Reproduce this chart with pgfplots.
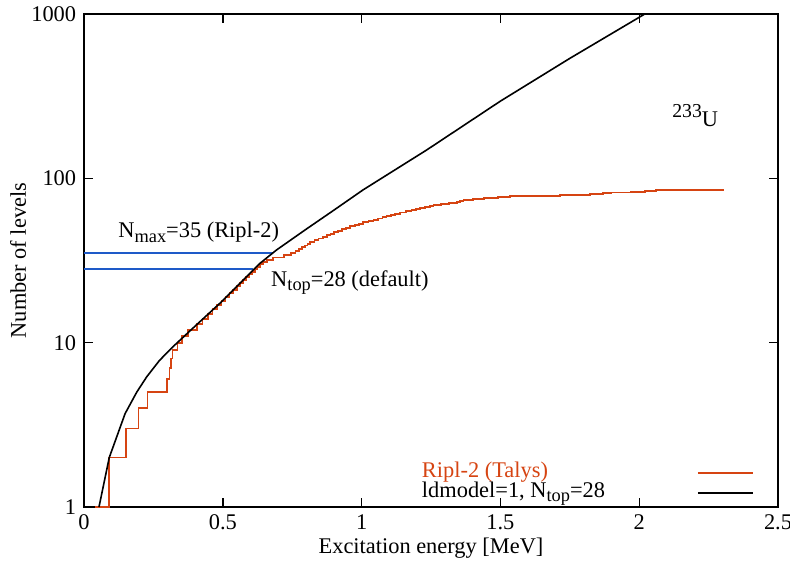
\documentclass[border=0pt]{standalone}
\usepackage{fontspec}
\setmainfont{Liberation Serif}
\usepackage{graphicx}
\usepackage{pgfplots}
\pgfplotsset{compat=1.18}
\definecolor{ripl}{RGB}{214,68,18}
\definecolor{nblue}{RGB}{30,90,200}
\newcommand{\mysub}[1]{\raisebox{-0.45ex}{\scalebox{0.82}{#1}}}
\newcommand{\mysup}[1]{\raisebox{0.8ex}{\scalebox{0.88}{#1}}}
\begin{document}
\fontsize{11.2bp}{13.4bp}\selectfont
\begin{tikzpicture}
\useasboundingbox (-42bp,-33.5bp) rectangle (353bp,253.5bp);
\begin{axis}[
  at={(0,0)}, anchor=south west,
  scale only axis, width=347bp, height=246.5bp,
  xmin=0, xmax=2.5, ymin=1, ymax=1000, ymode=log, log basis y=10,
  xtick={0,0.5,1,1.5,2,2.5}, xticklabels={0,0.5,1,1.5,2,2.5},
  ytick={1,10,100,1000}, yticklabels={1,10,100,1000},
  minor x tick num=0,
  tick align=inside, xtick pos=both, ytick pos=both,
  major tick length=4.5bp, minor tick length=2.5bp,
  axis line style={line width=0.9bp},
  every tick/.style={line width=0.7bp, black},
  /pgf/number format/assume math mode=true,
  tick label style={font=\fontsize{11.2bp}{13.4bp}\selectfont},
  label style={font=\fontsize{11.2bp}{13.4bp}\selectfont},
  xlabel={Excitation energy [MeV]},
  ylabel={Number of levels},
  xlabel style={at={(axis description cs:0.5,-0.0832)}, anchor=center},
  ylabel style={at={(axis description cs:-0.0951,0.5)}, anchor=center},
  legend plot pos=right,
  legend cell align=left,
  legend image code/.code={\draw[#1] (0bp,0bp) -- (27.5bp,0bp);},
  legend style={draw=none, fill=none, at={(rel axis cs:0.487,0.0892)}, anchor=north west,
    inner sep=0pt, outer sep=0pt, row sep=0pt, column sep=0pt,
    nodes={inner sep=0pt, text height=7bp, text depth=3bp,
      font=\fontsize{11.2bp}{13.4bp}\selectfont}},
]
\addplot[nblue, line width=0.8bp, forget plot] coordinates {(0,35) (0.682,35)};
\addplot[nblue, line width=0.8bp, forget plot] coordinates {(0,28) (0.607,28)};
\addplot[ripl, line width=0.9bp, const plot] coordinates {
(0.04,1)(0.091,2)(0.150,3)(0.196,4)(0.229,5)(0.298,6)(0.308,7)(0.314,8)(0.319,9)
(0.337,10)(0.352,11)(0.376,12)(0.407,13)(0.427,14)(0.446,15)(0.463,16)(0.480,17)
(0.495,18)(0.510,19)(0.524,20)(0.537,21)(0.550,22)(0.562,23)(0.573,24)(0.584,25)
(0.595,26)(0.605,27)(0.615,28)(0.625,29)(0.634,30)(0.645,31)(0.660,32)(0.680,33)
(0.720,34)(0.745,35)(0.762,36)(0.775,37)(0.785,38)(0.795,39)(0.805,40)(0.815,41)
(0.830,42)(0.845,43)(0.860,44)(0.875,45)(0.888,46)(0.900,47)(0.915,48)(0.930,49)
(0.945,50)(0.958,51)(0.975,52)(0.990,53)(1.005,54)(1.025,55)(1.043,56)(1.060,57)
(1.075,58)(1.090,59)(1.105,60)(1.120,61)(1.139,62)(1.160,63)(1.180,64)(1.195,65)
(1.210,66)(1.228,67)(1.245,68)(1.259,69)(1.285,70)(1.315,71)(1.343,72)(1.355,73)
(1.367,74)(1.400,75)(1.440,76)(1.490,77)(1.535,78)(1.715,79)(1.823,80)(1.870,81)
(1.900,82)(1.970,83)(2.020,84)(2.060,85)(2.304,85)};
\addlegendentry{\makebox[137.5bp][l]{\textcolor{ripl}{Ripl-2 (Talys)}}}
\addplot[black, line width=0.8bp] coordinates {
(0.054,1)(0.091,2)(0.148,3.7)(0.19,5.0)(0.226,6.2)(0.272,7.8)(0.322,9.5)(0.40,12.6)(0.49,17.4)
(0.56,22.8)(0.634,30.4)(0.694,36.7)(0.8,49)(0.9,64)(1.005,85)(1.235,149)(1.5,295)
(1.75,537)(2.02,1000)(2.1,1200)};
\addlegendentry{\makebox[137.5bp][l]{ldmodel=1, N\mysub{top}=28}}
\node[anchor=base west, inner sep=0pt] at (axis cs:0.1225,43.4) {N\mysub{max}=35 (Ripl-2)};
\node[anchor=base west, inner sep=0pt] at (axis cs:0.673,22.1) {N\mysub{top}=28 (default)};
\node[anchor=base west, inner sep=0pt] at (axis cs:2.118,208) {\mysup{233}U};
\end{axis}
\end{tikzpicture}
\end{document}
